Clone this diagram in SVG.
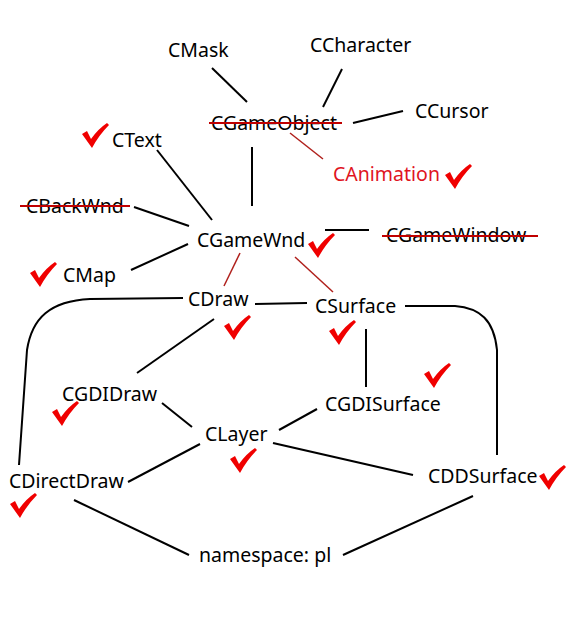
<svg xmlns="http://www.w3.org/2000/svg" xmlns:xlink="http://www.w3.org/1999/xlink" width="580" height="632" viewBox="0 0 580 632">
<defs>
<style>
text{font-family:"Noto Sans","Liberation Sans",sans-serif;font-size:19.5px;fill:#000}
.red{fill:#e0141e}
.ln{stroke:#000;stroke-width:2;fill:none}
.rl{stroke:#b0201c;stroke-width:1.5;fill:none}
.strike{stroke:#c00000;stroke-width:2}
.chk{fill:#f00000}
</style>
<path id="check" d="M0,11 L5,8 L9,16 Q16,6 25,0 L27,2 Q17,12 10,25 Z"/>
</defs>
<rect width="580" height="632" fill="#fff"/>
<g id="connectors">
<line class="ln" x1="212" y1="68" x2="247" y2="102"/>
<line class="ln" x1="342" y1="69" x2="323" y2="107"/>
<line class="ln" x1="353" y1="123" x2="403" y2="111"/>
<line class="rl" x1="290" y1="133" x2="323" y2="159"/>
<line class="ln" x1="252" y1="147" x2="252" y2="206"/>
<line class="ln" x1="157" y1="150" x2="212" y2="220"/>
<line class="ln" x1="134" y1="207" x2="189" y2="226"/>
<line class="ln" x1="131" y1="270" x2="188" y2="244"/>
<line class="ln" x1="325" y1="230" x2="369" y2="230"/>
<line class="rl" x1="240" y1="253" x2="224" y2="286"/>
<line class="rl" x1="295" y1="257" x2="333" y2="292"/>
<line class="ln" x1="255" y1="304" x2="307" y2="303"/>
<path class="ln" d="M183,298 L90,299 C50,301 32,318 27,350 L19,465"/>
<path class="ln" d="M405,306 L455,306 C480,308 494,320 497,350 L497,455"/>
<line class="ln" x1="214" y1="319" x2="137" y2="373"/>
<line class="ln" x1="366" y1="329" x2="366" y2="387"/>
<line class="ln" x1="162" y1="403" x2="192" y2="427"/>
<line class="ln" x1="317" y1="409" x2="279" y2="430"/>
<line class="ln" x1="200" y1="444" x2="128" y2="482"/>
<line class="ln" x1="273" y1="443" x2="413" y2="475"/>
<line class="ln" x1="74" y1="500" x2="189" y2="555"/>
<line class="ln" x1="473" y1="496" x2="343" y2="555"/>
</g>
<g id="CMask"><text x="168" y="57">CMask</text></g>
<g id="CCharacter"><text x="310" y="52">CCharacter</text></g>
<g id="CCursor"><text x="415" y="118">CCursor</text></g>
<g id="CGameObject"><text x="211" y="130">CGameObject</text><line class="strike" x1="209" y1="123" x2="342" y2="123"/></g>
<g id="CText"><text x="112" y="147">CText</text><use class="chk" xlink:href="#check" x="82" y="123"/></g>
<g id="CAnimation"><text class="red" x="333" y="181">CAnimation</text><use class="chk" xlink:href="#check" x="445" y="164"/></g>
<g id="CBackWnd"><text x="26" y="213">CBackWnd</text><line class="strike" x1="20" y1="206" x2="130" y2="206"/></g>
<g id="CGameWnd"><text x="197" y="247">CGameWnd</text><use class="chk" xlink:href="#check" x="308" y="233"/></g>
<g id="CGameWindow"><text x="386" y="242">CGameWindow</text><line class="strike" x1="382" y1="236" x2="538" y2="236"/></g>
<g id="CMap"><text x="63" y="282">CMap</text><use class="chk" xlink:href="#check" x="30" y="262"/></g>
<g id="CDraw"><text x="188" y="306">CDraw</text><use class="chk" xlink:href="#check" x="224" y="315"/></g>
<g id="CSurface"><text x="315" y="313">CSurface</text><use class="chk" xlink:href="#check" x="329" y="320"/></g>
<g id="CGDIDraw"><text x="62" y="401">CGDIDraw</text><use class="chk" xlink:href="#check" x="52" y="401"/></g>
<g id="CGDISurface"><text x="325" y="411">CGDISurface</text><use class="chk" xlink:href="#check" x="424" y="363"/></g>
<g id="CLayer"><text x="205" y="441">CLayer</text><use class="chk" xlink:href="#check" x="230" y="448"/></g>
<g id="CDirectDraw"><text x="9" y="488">CDirectDraw</text><use class="chk" xlink:href="#check" x="10" y="493"/></g>
<g id="CDDSurface"><text x="428" y="483">CDDSurface</text><use class="chk" xlink:href="#check" x="539" y="465"/></g>
<g id="namespace"><text x="199" y="562">namespace: pl</text></g>
</svg>
